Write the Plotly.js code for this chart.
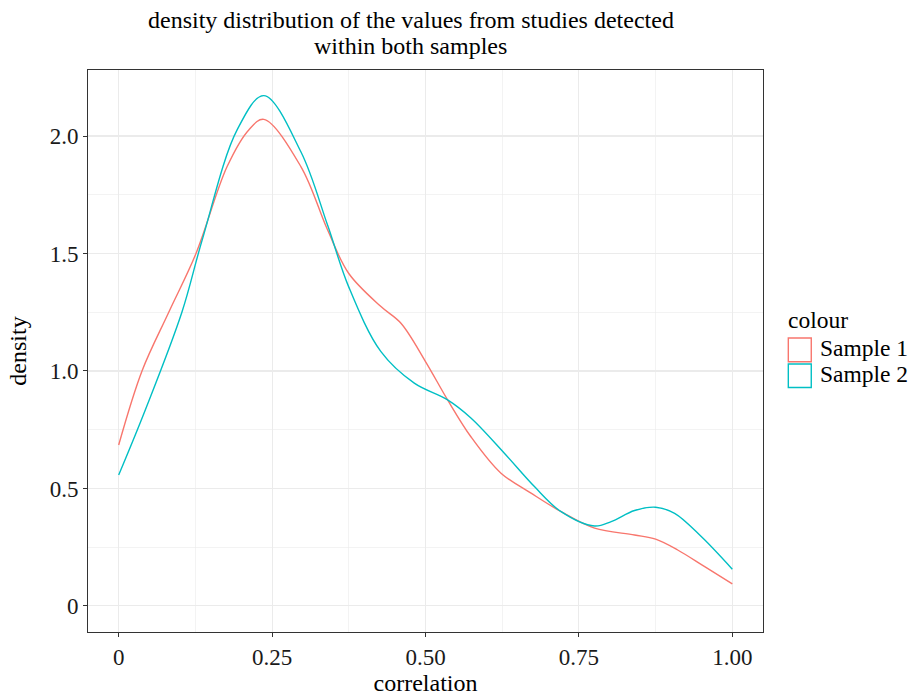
<!DOCTYPE html>
<html>
<head>
<meta charset="utf-8">
<script src="https://cdn.plot.ly/plotly-3.0.1.min.js"></script>
<style>html,body{margin:0;padding:0;background:#fff;}#chart{width:913px;height:696px;}</style>
</head>
<body>
<div id="chart"></div>
<script>
// Sample 1 density curve
var s1x = [0, 0.038, 0.0816, 0.126, 0.1767, 0.212, 0.2365, 0.2969, 0.3405, 0.3747, 0.4274, 0.46, 0.5, 0.536, 0.574, 0.623, 0.672, 0.721, 0.7755, 0.8407, 0.875, 0.911, 0.955, 1.0];
var s1y = [0.685, 1.0, 1.25, 1.5, 1.87, 2.026, 2.071, 1.87, 1.60, 1.416, 1.274, 1.203, 1.04, 0.877, 0.72, 0.565, 0.48, 0.401, 0.331, 0.302, 0.284, 0.238, 0.167, 0.094];
// Sample 2 density curve
var s2x = [0, 0.0435, 0.103, 0.136, 0.193, 0.2365, 0.2969, 0.3405, 0.3747, 0.4274, 0.4817, 0.536, 0.574, 0.6285, 0.6775, 0.721, 0.7755, 0.8026, 0.8407, 0.875, 0.906, 0.9494, 1.0];
var s2y = [0.557, 0.835, 1.25, 1.557, 2.026, 2.172, 1.933, 1.62, 1.359, 1.082, 0.948, 0.877, 0.80, 0.65, 0.508, 0.401, 0.340, 0.359, 0.406, 0.42, 0.394, 0.295, 0.156];

var seriesNames = ['Sample 1', 'Sample 2'];
var seriesColors = ['#F8766D', '#00BFC4'];
var xTickVals = [0, 0.25, 0.5, 0.75, 1.0];
var xTickText = ['0', '0.25', '0.50', '0.75', '1.00'];
var yTickVals = [0, 0.5, 1.0, 1.5, 2.0];
var yTickText = ['0', '0.5', '1.0', '1.5', '2.0'];

var FONT = 'Liberation Serif, Times New Roman, serif';

var traces = [
  {x: s1x, y: s1y, type: 'scatter', mode: 'lines', name: seriesNames[0],
   line: {color: seriesColors[0], width: 1.4, shape: 'spline', smoothing: 1}, showlegend: false, hoverinfo: 'skip'},
  {x: s2x, y: s2y, type: 'scatter', mode: 'lines', name: seriesNames[1],
   line: {color: seriesColors[1], width: 1.4, shape: 'spline', smoothing: 1}, showlegend: false, hoverinfo: 'skip'}
];

var axisCommon = {
  showline: true, mirror: true, linecolor: '#333333', linewidth: 1,
  ticks: 'outside', ticklen: 4, tickcolor: '#333333', tickwidth: 1,
  showgrid: true, gridcolor: '#EBEBEB', gridwidth: 1.1,
  zeroline: false,
  tickfont: {family: FONT, size: 23, color: '#1a1a1a'}
};

var layout = {
  width: 913, height: 696,
  margin: {l: 88, r: 150, t: 70, b: 64},
  paper_bgcolor: '#ffffff', plot_bgcolor: '#ffffff',
  font: {family: FONT, color: '#000'},
  xaxis: Object.assign({}, axisCommon, {
    range: [-0.05, 1.05], tickmode: 'array', tickvals: xTickVals, ticktext: xTickText,
    minor: {tickmode: 'array', tickvals: [0.125, 0.375, 0.625, 0.875], showgrid: true, gridcolor: '#EBEBEB', gridwidth: 0.6, ticks: ''},
    title: {text: 'correlation', font: {family: FONT, size: 24, color: '#000'}, standoff: 4}
  }),
  yaxis: Object.assign({}, axisCommon, {
    range: [-0.111, 2.281], tickmode: 'array', tickvals: yTickVals, ticktext: yTickText,
    minor: {tickmode: 'array', tickvals: [0.25, 0.75, 1.25, 1.75], showgrid: true, gridcolor: '#EBEBEB', gridwidth: 0.6, ticks: ''},
    title: {text: 'density', font: {family: FONT, size: 24, color: '#000'}, standoff: 16}
  }),
  shapes: [
    {type: 'rect', xref: 'paper', yref: 'paper', x0: 1.0375, x1: 1.0715, y0: 0.481, y1: 0.523,
     line: {color: seriesColors[0], width: 1.4}, fillcolor: '#ffffff'},
    {type: 'rect', xref: 'paper', yref: 'paper', x0: 1.0375, x1: 1.0715, y0: 0.435, y1: 0.477,
     line: {color: seriesColors[1], width: 1.4}, fillcolor: '#ffffff'}
  ],
  annotations: [
    {text: 'density distribution of the values from studies detected',
     xref: 'paper', yref: 'paper', x: 0.5, y: 1.089, xanchor: 'center', yanchor: 'middle', xshift: -15,
     showarrow: false, font: {family: FONT, size: 24, color: '#000'}},
    {text: 'within both samples',
     xref: 'paper', yref: 'paper', x: 0.5, y: 1.0427, xanchor: 'center', yanchor: 'middle', xshift: -15,
     showarrow: false, font: {family: FONT, size: 24, color: '#000'}},
    {text: 'colour', xref: 'paper', yref: 'paper', x: 1.034, y: 0.555, xanchor: 'left', yanchor: 'middle',
     showarrow: false, font: {family: FONT, size: 23.5, color: '#000'}},
    {text: seriesNames[0], xref: 'paper', yref: 'paper', x: 1.082, y: 0.505, xanchor: 'left', yanchor: 'middle',
     showarrow: false, font: {family: FONT, size: 23.5, color: '#000'}},
    {text: seriesNames[1], xref: 'paper', yref: 'paper', x: 1.082, y: 0.459, xanchor: 'left', yanchor: 'middle',
     showarrow: false, font: {family: FONT, size: 23.5, color: '#000'}}
  ]
};

Plotly.newPlot('chart', traces, layout, {displayModeBar: false, staticPlot: true});
</script>
</body>
</html>
